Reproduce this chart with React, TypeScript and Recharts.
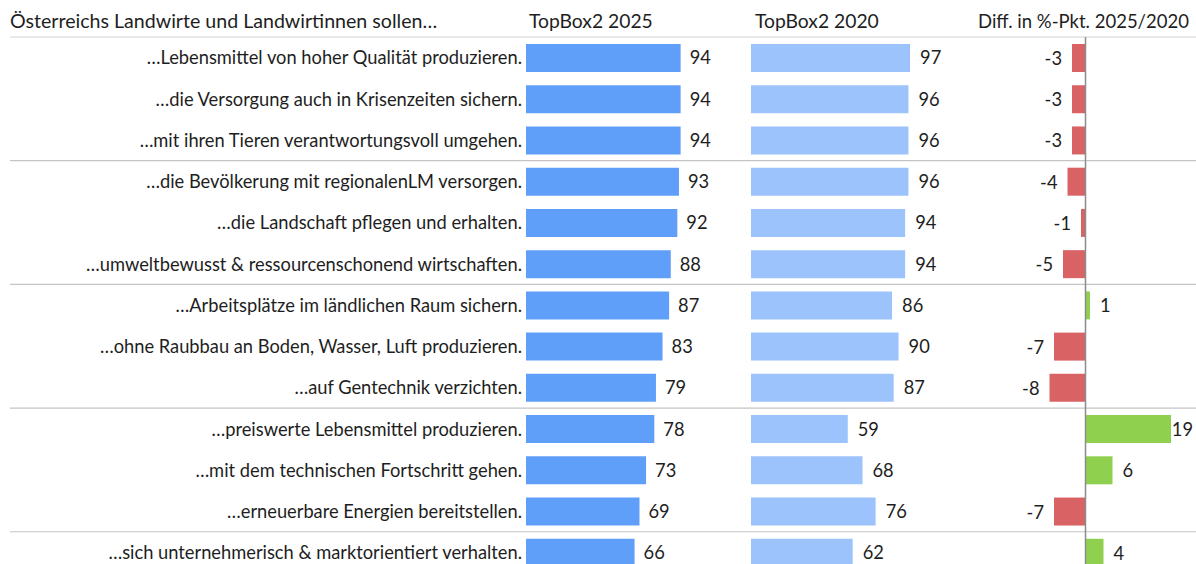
import { BarChart, Bar, XAxis, YAxis, Cell, LabelList, ReferenceLine } from "recharts";

const statements = [
  "…Lebensmittel von hoher Qualität produzieren.",
  "…die Versorgung auch in Krisenzeiten sichern.",
  "…mit ihren Tieren verantwortungsvoll umgehen.",
  "…die Bevölkerung mit regionalenLM versorgen.",
  "…die Landschaft pflegen und erhalten.",
  "…umweltbewusst & ressourcenschonend wirtschaften.",
  "…Arbeitsplätze im ländlichen Raum sichern.",
  "…ohne Raubbau an Boden, Wasser, Luft produzieren.",
  "…auf Gentechnik verzichten.",
  "…preiswerte Lebensmittel produzieren.",
  "…mit dem technischen Fortschritt gehen.",
  "…erneuerbare Energien bereitstellen.",
  "…sich unternehmerisch & marktorientiert verhalten.",
];
const topBox2025 = [94, 94, 94, 93, 92, 88, 87, 83, 79, 78, 73, 69, 66];
const topBox2020 = [97, 96, 96, 96, 94, 94, 86, 90, 87, 59, 68, 76, 62];
const diff = [-3, -3, -3, -4, -1, -5, 1, -7, -8, 19, 6, -7, 4];
// first statement of each group (separator line above it)
const groupStarts = [3, 6, 9, 12];

const headers = {
  title: "Österreichs Landwirte und Landwirtinnen sollen…",
  y2025: "TopBox2 2025",
  y2020: "TopBox2 2020",
  diff: "Diff. in %-Pkt. 2025/2020",
};

const data = statements.map((label, i) => ({
  label,
  v2025: topBox2025[i],
  v2020: topBox2020[i],
  diff: diff[i],
}));

const W = 1196;
const H = 573;
const LEFT = 10;
const TOP = 37;
const BAR = 28;
const FONT = "Lato, 'Open Sans', sans-serif";
const TEXT = "#1e1e1e";
const FS = 18.3;

// the three panels share one plot area; each domain puts its zero at the panel's origin
const domainFor = (zeroX: number, pxPerUnit: number) => [
  -(zeroX - LEFT) / pxPerUnit,
  (W - zeroX) / pxPerUnit,
];
const ZERO_A = 526;
const ZERO_B = 751;
const ZERO_C = 1085.5;

const DiffLabel = (props: any) => {
  const { x, y, width, height, value } = props;
  const left = Math.min(x, x + width);
  const right = Math.max(x, x + width);
  const cy = y + height / 2;
  let tx = value >= 0 ? right + 10 : left - 10;
  let anchor: "start" | "end" = value >= 0 ? "start" : "end";
  if (value >= 0 && tx + 20 > W) {
    tx = W - 3;
    anchor = "end";
  }
  return (
    <text x={tx} y={cy} textAnchor={anchor} dominantBaseline="central" fill={TEXT} fontSize={FS} fontFamily={FONT}>
      {value}
    </text>
  );
};

export default function App() {
  const hdr = (left: number, text: string, size = 19.3) => (
    <div style={{ position: "absolute", left, top: 9, fontSize: size, color: TEXT, whiteSpace: "nowrap", lineHeight: "24px" }}>
      {text}
    </div>
  );
  return (
    <div
      style={{
        position: "absolute",
        left: 0,
        top: 0,
        width: W,
        height: 564,
        overflow: "hidden",
        background: "#fff",
        fontFamily: FONT,
      }}
    >
      {hdr(10, headers.title, 19.6)}
      {hdr(529, headers.y2025)}
      {hdr(755, headers.y2020)}
      {hdr(978, headers.diff, 18.5)}
      <div style={{ position: "absolute", left: 0, top: 0 }}>
        <BarChart
          width={W}
          height={H}
          data={data}
          layout="vertical"
          margin={{ top: TOP, right: 0, bottom: 0, left: LEFT }}
          barSize={BAR}
          barGap={-BAR}
        >
          <YAxis type="category" dataKey="label" hide />
          <XAxis xAxisId="a" type="number" domain={domainFor(ZERO_A, 1.645)} hide />
          <XAxis xAxisId="b" type="number" domain={domainFor(ZERO_B, 1.64)} hide />
          <XAxis xAxisId="c" type="number" domain={domainFor(ZERO_C, 4.5)} hide />
          <ReferenceLine xAxisId="a" y={statements[0]} position="start" stroke="#e2e2e2" strokeWidth={1.5} />
          {groupStarts.map((i) => (
            <ReferenceLine key={i} xAxisId="a" y={statements[i]} position="start" stroke="#c4c4c4" strokeWidth={1.2} />
          ))}
          <Bar xAxisId="a" dataKey="v2025" fill="#609ff9" isAnimationActive={false}>
            <LabelList dataKey="label" position="left" offset={4} fill={TEXT} fontSize={FS} fontFamily={FONT} />
            <LabelList dataKey="v2025" position="right" offset={9} fill={TEXT} fontSize={FS} fontFamily={FONT} />
          </Bar>
          <Bar xAxisId="b" dataKey="v2020" fill="#9cc3fb" isAnimationActive={false}>
            <LabelList dataKey="v2020" position="right" offset={10} fill={TEXT} fontSize={FS} fontFamily={FONT} />
          </Bar>
          <Bar xAxisId="c" dataKey="diff" isAnimationActive={false}>
            {data.map((d, i) => (
              <Cell key={i} fill={d.diff < 0 ? "#d96364" : "#8fd14f"} />
            ))}
            <LabelList dataKey="diff" content={<DiffLabel />} />
          </Bar>
          <ReferenceLine xAxisId="c" x={0} stroke="#8c8c8c" strokeWidth={1.5} />
        </BarChart>
      </div>
    </div>
  );
}
